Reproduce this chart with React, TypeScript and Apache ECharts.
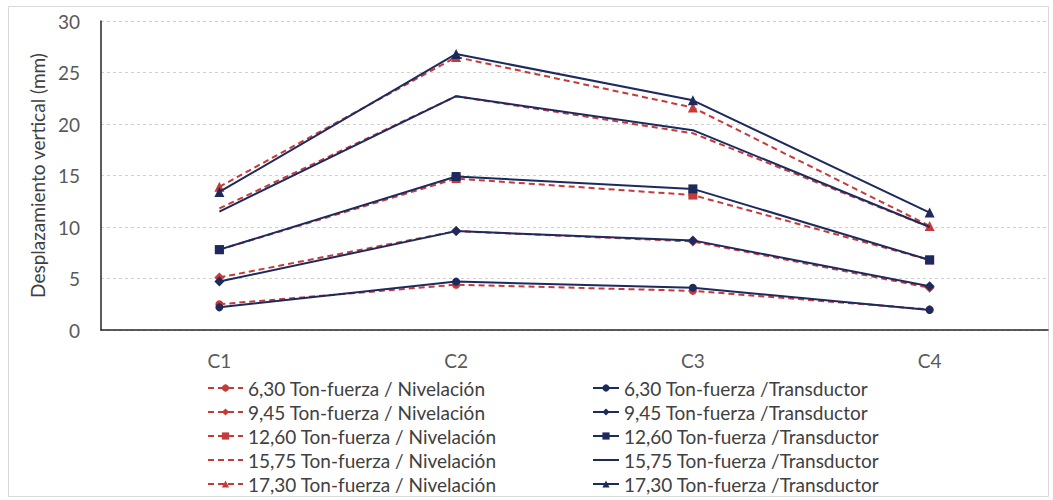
import React, { useEffect, useRef } from "react";
import * as echarts from "echarts";

const categories = ["C1", "C2", "C3", "C4"];
const yTicks = [0, 5, 10, 15, 20, 25, 30];

const niv630 = [2.5, 4.4, 3.8, 2.0];
const tra630 = [2.2, 4.7, 4.1, 1.95];
const niv945 = [5.1, 9.6, 8.6, 4.1];
const tra945 = [4.7, 9.6, 8.7, 4.25];
const niv1260 = [7.8, 14.7, 13.1, 6.8];
const tra1260 = [7.8, 14.9, 13.7, 6.8];
const niv1575 = [11.8, 22.7, 19.1, 10.0];
const tra1575 = [11.5, 22.7, 19.4, 10.0];
const niv1730 = [13.9, 26.5, 21.6, 10.1];
const tra1730 = [13.4, 26.8, 22.3, 11.4];

const nivNames = [
  "6,30 Ton-fuerza / Nivelación",
  "9,45 Ton-fuerza / Nivelación",
  "12,60 Ton-fuerza / Nivelación",
  "15,75 Ton-fuerza / Nivelación",
  "17,30 Ton-fuerza / Nivelación",
];
const traNames = [
  "6,30 Ton-fuerza /Transductor",
  "9,45 Ton-fuerza /Transductor",
  "12,60 Ton-fuerza /Transductor",
  "15,75 Ton-fuerza /Transductor",
  "17,30 Ton-fuerza /Transductor",
];

const RED = "#c63a3a";
const NAVY = "#1c2a5e";
const FONT = "Lato";

export default function App() {
  const ref = useRef<HTMLDivElement>(null);
  useEffect(() => {
    document.body.style.margin = "0";
    const chart = echarts.init(ref.current!, null, { renderer: "svg" });
    const nivData = [niv630, niv945, niv1260, niv1575, niv1730];
    const traData = [tra630, tra945, tra1260, tra1575, tra1730];
    const symbols = ["circle", "diamond", "rect", "none", "triangle"];
    const sizes = [8, 10, 9, 0, 10];
    const series: any[] = [];
    for (let i = 0; i < 5; i++) {
      const noSym = symbols[i] === "none";
      series.push({
        name: nivNames[i],
        type: "line",
        data: nivData[i],
        symbol: symbols[i],
        symbolSize: sizes[i],
        showSymbol: !noSym,
        itemStyle: { color: RED, opacity: noSym ? 0 : 1 },
        lineStyle: { color: RED, width: 2, type: [6, 4], opacity: 1 },
        z: 2,
      });
      series.push({
        name: traNames[i],
        type: "line",
        data: traData[i],
        symbol: symbols[i],
        symbolSize: sizes[i],
        showSymbol: !noSym,
        itemStyle: { color: NAVY, opacity: noSym ? 0 : 1 },
        lineStyle: { color: NAVY, width: 2, opacity: 1 },
        z: 3,
      });
    }
    const legendText = { color: "#404040", fontFamily: FONT, fontSize: 19, lineHeight: 20 };
    chart.setOption({
      animation: false,
      textStyle: { fontFamily: FONT },
      graphic: [
        {
          type: "rect",
          shape: { x: 8.5, y: 6.5, width: 1040, height: 490 },
          style: { fill: "none", stroke: "#d9d9d9", lineWidth: 1 },
          silent: true,
        },
      ],
      grid: { left: 101, right: 5, top: 21, bottom: 170, containLabel: false },
      xAxis: {
        type: "category",
        data: categories,
        boundaryGap: true,
        axisLine: { lineStyle: { color: "#262626", width: 1.5 } },
        axisTick: { show: false },
        axisLabel: { color: "#595959", fontSize: 19, fontFamily: FONT, margin: 21 },
      },
      yAxis: {
        type: "value",
        min: yTicks[0],
        max: yTicks[yTicks.length - 1],
        interval: 5,
        name: "Desplazamiento vertical (mm)",
        nameLocation: "middle",
        nameRotate: 90,
        nameGap: 52,
        nameTextStyle: { color: "#404040", fontSize: 19, fontFamily: FONT },
        axisLine: { show: true, lineStyle: { color: "#262626", width: 1.5 } },
        axisTick: { show: false },
        axisLabel: { color: "#595959", fontSize: 19, fontFamily: FONT, margin: 21 },
        splitLine: { lineStyle: { color: "#d0d0d0", type: [3, 3], width: 1 } },
      },
      legend: [
        {
          data: nivNames,
          orient: "vertical",
          left: 202,
          top: 373,
          height: 124,
          itemWidth: 35,
          itemHeight: 9,
          itemGap: 4,
          textStyle: legendText,
          selectedMode: false,
        },
        {
          data: traNames,
          orient: "vertical",
          left: 587,
          top: 373,
          height: 124,
          itemWidth: 26,
          itemHeight: 9,
          itemGap: 4,
          textStyle: legendText,
          selectedMode: false,
        },
      ],
      series,
    });
    return () => chart.dispose();
  }, []);
  return <div ref={ref} style={{ width: 1053, height: 500 }} />;
}
